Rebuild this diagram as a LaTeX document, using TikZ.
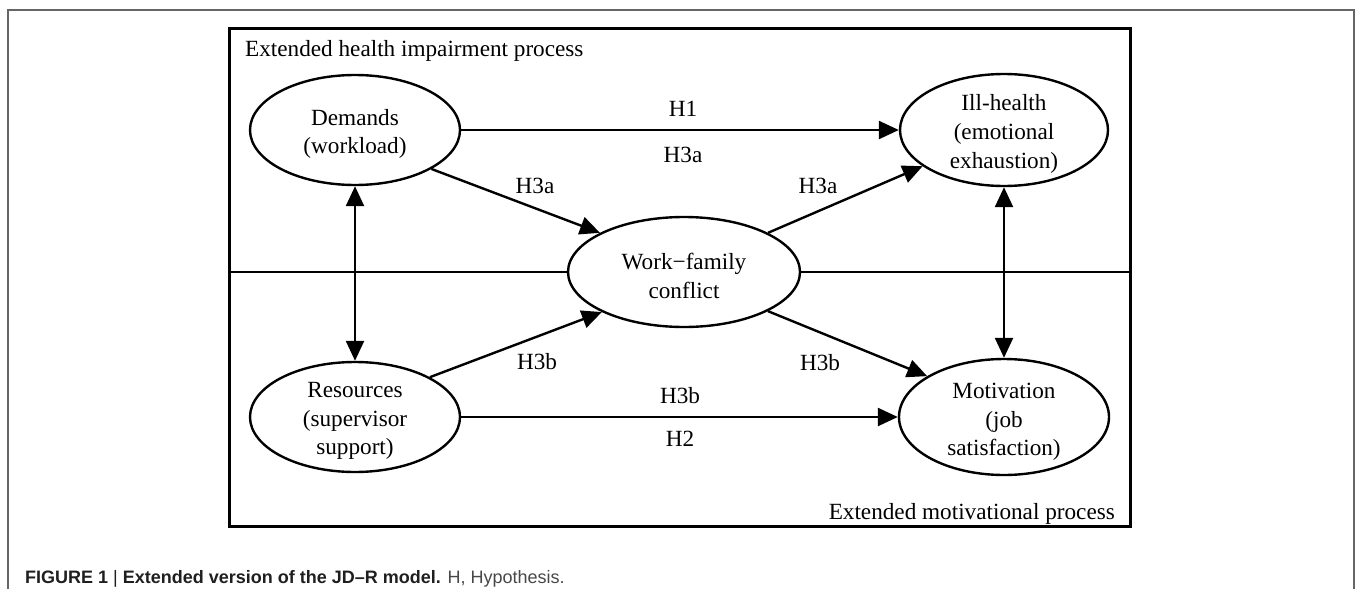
\documentclass[tikz,border=0pt]{standalone}
\usepackage{fontspec}
\setmainfont{Liberation Serif}
\newfontfamily\capfont{Liberation Sans}
\usetikzlibrary{shapes.geometric,arrows.meta}
\begin{document}
\begin{tikzpicture}[x=1pt,y=-1pt,
  ell/.style={ellipse, draw, line width=2.4pt, inner sep=0pt},
  etext/.style={align=center, inner sep=0pt, font=\fontsize{23.2}{28.7}\selectfont},
  lbl/.style={font=\fontsize{23.2}{28.7}\selectfont, inner sep=0pt},
  arr/.style={line width=2.4pt, -{Triangle[length=20pt,width=18pt]}},
  darr/.style={line width=2.4pt, {Triangle[length=20pt,width=18pt]}-{Triangle[length=20pt,width=18pt]}},
  sep/.style={line width=2.4pt}
]
\useasboundingbox (0,0) rectangle (1357,589);
% outer figure frame
\draw[black!60, line width=1.4pt] (8,589) -- (8,10) -- (1354,10) -- (1354,589);
% inner box
\node[draw, line width=3pt, minimum width=901pt, minimum height=498pt, inner sep=0pt,
  anchor=north west] (box) at (228,27) {};
% ellipses
\node[ell, minimum width=210pt, minimum height=110pt] (dem) at (355,130) {};
\node[ell, minimum width=208pt, minimum height=112pt] (ill) at (1004,130) {};
\node[ell, minimum width=232pt, minimum height=110pt] (wf) at (684,272) {};
\node[ell, minimum width=210pt, minimum height=110pt] (res) at (355,417) {};
\node[ell, minimum width=210pt, minimum height=116pt] (mot) at (1004,417) {};
% ellipse texts
\node[etext] (demT) at ([yshift=-4pt]dem.center) {Demands\\(workload)};
\node[etext] (illT) at ([yshift=-4pt]ill.center) {Ill-health\\(emotional\\exhaustion)};
\node[etext] (wfT) at ([yshift=-4pt]wf.center) {Work−family\\conflict};
\node[etext] (resT) at ([yshift=-4pt]res.center) {Resources\\(supervisor\\support)};
\node[etext] (motT) at ([yshift=-5pt]mot.center) {Motivation\\(job\\satisfaction)};
% section texts
\node[lbl, anchor=base west] (t1) at (245,56) {Extended health impairment process};
\node[lbl, anchor=base east] (t2) at (1115,519) {Extended motivational process};
% dividing line
\draw[sep] (wf.west -| box.west) -- (wf.west);
\draw[sep] (wf.east) -- (wf.east -| box.east);
% arrows
\draw[arr] (dem.east) -- (ill.west);
\draw[arr] (res.east) -- (mot.west);
\draw[arr] (dem.-27) -- (wf.155);
\draw[arr] (wf.25) -- (ill.-156);
\draw[arr] (res.28) -- (wf.-154);
\draw[arr] (wf.-25) -- (mot.152);
\draw[darr] (dem.south) -- (res.north);
\draw[darr] (ill.south) -- (mot.north);
% labels
\node[lbl] (l1) at (683,109) {H1};
\node[lbl] (l2) at (683,155) {H3a};
\node[lbl] (l3) at (535,186) {H3a};
\node[lbl] (l4) at (818,186) {H3a};
\node[lbl] (l5) at (537,362) {H3b};
\node[lbl] (l6) at (820,363) {H3b};
\node[lbl] (l7) at (680,396) {H3b};
\node[lbl] (l8) at (680,439) {H2};
% caption
\node[anchor=base west, inner sep=0pt, font=\capfont\fontsize{18}{21}\selectfont] (cap) at (25,583)
  {\textcolor{black!88}{\textbf{FIGURE 1 {\mdseries|} Extended version of the JD–R model.}} \textcolor{black!72}{H, Hypothesis.}};
\end{tikzpicture}
\end{document}
